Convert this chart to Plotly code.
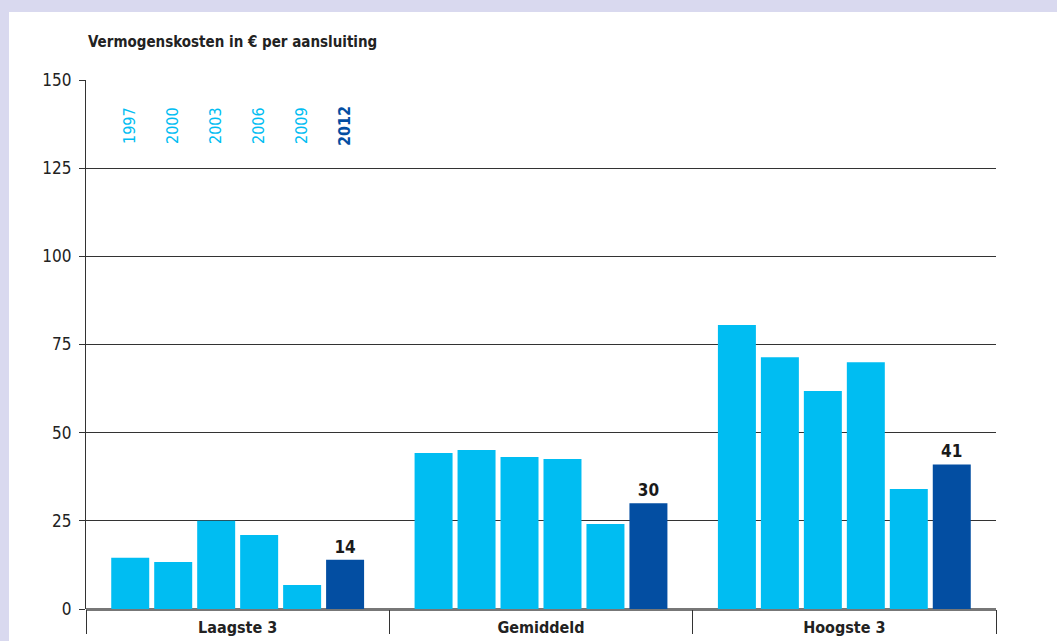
import plotly.graph_objects as go

# data
categories = ['Laagste 3', 'Gemiddeld', 'Hoogste 3']
years = ['1997', '2000', '2003', '2006', '2009', '2012']
values = {
    '1997': [14.5, 44.2, 80.5],
    '2000': [13.3, 45.1, 71.4],
    '2003': [25.0, 43.1, 61.8],
    '2006': [21.0, 42.5, 70.0],
    '2009': [6.8, 24.1, 34.0],
    '2012': [14, 30, 41],
}
yticks = [0, 25, 50, 75, 100, 125, 150]

CYAN = '#00bdf2'
DARK = '#034ea2'
FONT = 'Liberation Sans Narrow, DejaVu Sans Condensed, Arial Narrow, sans-serif'

fig = go.Figure()
for yr in years:
    last = yr == years[-1]
    fig.add_trace(go.Bar(
        x=categories, y=values[yr], name=yr,
        marker=dict(color=DARK if last else CYAN, line=dict(width=0)),
        text=[str(v) for v in values[yr]] if last else None,
        textposition='outside' if last else None,
        textfont=dict(family=FONT, size=17, color='#1a1a1a', weight='bold'),
        cliponaxis=False,
    ))

# year labels above the first group
for i, yr in enumerate(years):
    last = yr == years[-1]
    fig.add_annotation(
        x=categories[0], y=137, xref='x', yref='y',
        xshift=(i - 2.5) * 43, text='<b>' + yr + '</b>' if last else yr,
        textangle=-90, showarrow=False,
        font=dict(family=FONT, size=16, color=DARK if last else CYAN),
    )

# white panel on lavender background
fig.add_shape(type='rect', xref='paper', yref='paper',
              x0=-0.0846, x1=1.2, y0=-0.2, y1=1.1285,
              fillcolor='white', line=dict(width=0), layer='below')

fig.update_layout(
    width=1057, height=641,
    margin=dict(l=86, r=61, t=80, b=32),
    paper_bgcolor='#d9d9ef', plot_bgcolor='white',
    barmode='group', bargap=0.15, bargroupgap=0.116,
    showlegend=False,
    font=dict(family=FONT, size=16, color='#222'),
    title=dict(text='<b>Vermogenskosten in € per aansluiting</b>',
               x=88 / 1057, xanchor='left', y=1 - 42 / 641, yanchor='middle',
               font=dict(family=FONT, size=15, color='#222')),
    xaxis=dict(type='category', tickson='boundaries', ticks='outside',
               ticklen=24, tickwidth=1.2, tickcolor='#333', automargin=False,
               ticklabelstandoff=7, showgrid=False, showline=False,
               tickfont=dict(family=FONT, size=16, color='#222', weight='bold')),
    yaxis=dict(range=[0, 150], tickvals=yticks, ticks='outside', ticklen=6,
               tickcolor='#333', tickwidth=1.2, showgrid=True, automargin=False,
               gridcolor='#333', gridwidth=1.2, showline=True,
               linecolor='#333', linewidth=1.2, zeroline=True,
               zerolinecolor='#777', zerolinewidth=2.5, ticklabelstandoff=4,
               tickfont=dict(family=FONT, size=17, color='#222')),
)

fig.write_html('out.html', config={'displayModeBar': False},
               post_script="document.body.style.margin='0';")
